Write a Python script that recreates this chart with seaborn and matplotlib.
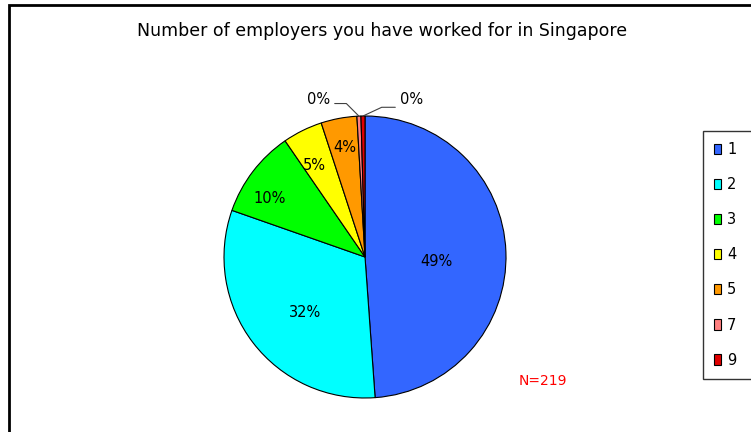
import numpy as np
import matplotlib
matplotlib.use("Agg")
import matplotlib.pyplot as plt
import seaborn as sns
from matplotlib.patches import Rectangle

# ---- data ----
categories = ["1", "2", "3", "4", "5", "7", "9"]
counts = [107, 69, 22, 10, 9, 1, 1]
pct_labels = ["49%", "32%", "10%", "5%", "4%", "0%", "0%"]
title = "Number of employers you have worked for in Singapore"
note = "N=219"

colors = ["#3366FF", "#00FFFF", "#00FF00", "#FFFF00", "#FF9900", "#FF8080", "#E00000"]

sns.set_theme(style="white")
plt.rcParams["font.family"] = ["DejaVu Sans"]
plt.rcParams["text.color"] = "black"

W, H = 751, 432
fig = plt.figure(figsize=(W / 100, H / 100), dpi=100)
fig.patch.set_facecolor("white")

# pie axes: centre (365,257) px, radius 141 px
cx, cy, r = 365, 257, 141
ax = fig.add_axes([(cx - r) / W, 1 - (cy + r) / H, 2 * r / W, 2 * r / H])
wedges, _ = ax.pie(counts, colors=colors, startangle=90, counterclock=False,
                   wedgeprops=dict(edgecolor="black", linewidth=0.8))
ax.set_xlim(-1, 1)
ax.set_ylim(-1, 1)
ax.set_aspect("equal")
ax.axis("off")

# label placement (radial factor, angular offset in degrees)
label_r = [0.51, 0.58, 0.79, 0.74, 0.79, None, None]
label_dang = [-6, 5, 6, 2.5, 0, 0, 0]
for w, txt, lr, da in zip(wedges, pct_labels, label_r, label_dang):
    if lr is None:
        continue
    mid = np.deg2rad((w.theta1 + w.theta2) / 2 + da)
    ax.text(lr * np.cos(mid), lr * np.sin(mid), txt, ha="center", va="center",
            fontsize=10.5, color="black")

# small slices with leader lines: (index, text pos, angleB, relpos)
small = [(5, (-0.33, 1.115), 135, (1.0, 0.25)),
         (6, (0.33, 1.115), 25, (0.0, 0.0))]
for idx, (tx, ty), angB, rp in small:
    w = wedges[idx]
    mid = np.deg2rad((w.theta1 + w.theta2) / 2)
    ax.annotate(pct_labels[idx], xy=(np.cos(mid), np.sin(mid)), xytext=(tx, ty),
                ha="center", va="center", fontsize=10.5, annotation_clip=False,
                arrowprops=dict(arrowstyle="-", color="#404040", lw=0.8,
                                shrinkA=1, shrinkB=0, relpos=rp,
                                connectionstyle=f"angle,angleA=0,angleB={angB},rad=0"))

fig.text(382 / W, 1 - 31 / H, title, ha="center", va="center", fontsize=12.5,
         color="black")
fig.text(543 / W, 1 - 381 / H, note, ha="center", va="center", fontsize=10,
         color="#FF0000")

leg = ax.legend(wedges, categories, loc="upper left",
                bbox_to_anchor=(703 / W, 1 - 131 / H, 80 / W, 0),
                bbox_transform=fig.transFigure, mode="expand",
                frameon=True, fancybox=False, fontsize=10.5, handlelength=0.45,
                handleheight=0.7, handletextpad=0.45, labelspacing=1.38,
                borderpad=0.75, borderaxespad=0)
leg.get_frame().set_edgecolor("black")
leg.get_frame().set_linewidth(1.0)
for t in leg.get_texts():
    t.set_color("black")

# chart border (left and top edges visible)
fig.add_artist(Rectangle((8.5 / W, -0.1), 1.2, 1.1 - 4.5 / H,
                         transform=fig.transFigure, fill=False,
                         edgecolor="black", linewidth=2.0))

fig.savefig("out.png", dpi=100)
